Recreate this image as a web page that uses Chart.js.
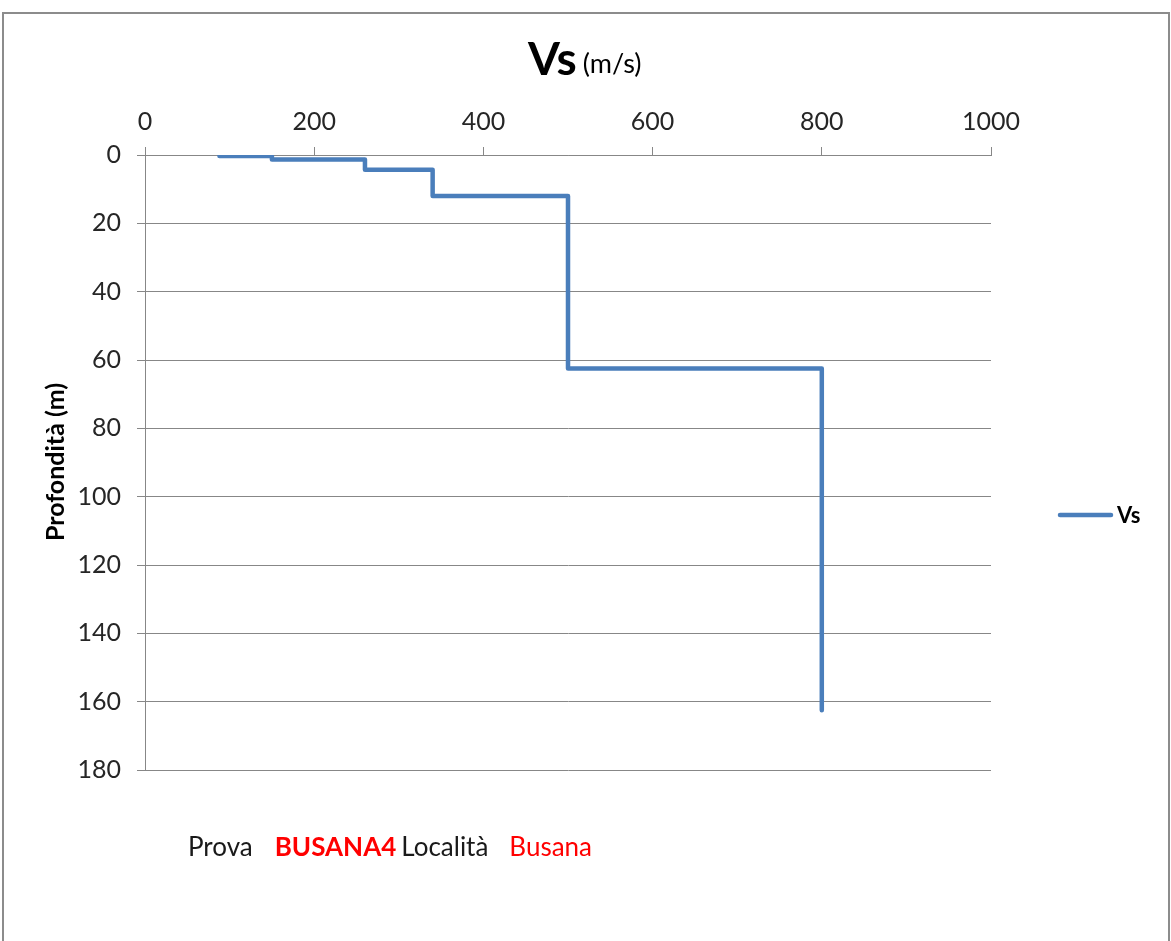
<!DOCTYPE html>
<html>
<head>
<meta charset="utf-8">
<script src="https://cdn.jsdelivr.net/npm/chart.js@4/dist/chart.umd.min.js"></script>
<style>
html,body{margin:0;padding:0;background:#fff;}
#wrap{position:relative;width:1171px;height:941px;}
</style>
</head>
<body>
<div id="wrap"><canvas id="c" width="1171" height="941"></canvas></div>
<script>
// Data (Vs in m/s vs depth in m), step profile
const vsValues    = [88, 150, 150, 260, 260, 340, 340, 500, 500, 800, 800];
const depthValues = [0.3, 0.3, 1.3, 1.3, 4.3, 4.3, 12, 12, 62.5, 62.5, 162.5];
const xTicks = [0, 200, 400, 600, 800, 1000];
const yTicks = [0, 20, 40, 60, 80, 100, 120, 140, 160, 180];
const seriesName = 'Vs';
const titleMain = 'Vs';
const titleUnit = '(m/s)';
const yTitle = 'Profondità (m)';
const footerParts = [
  {text: 'Prova', color: '#1a1a1a', bold: false, gapAfter: 22},
  {text: 'BUSANA4', color: '#ff0000', bold: true, gapAfter: 5},
  {text: 'Località', color: '#1a1a1a', bold: false, gapAfter: 21},
  {text: 'Busana', color: '#ff0000', bold: false, gapAfter: 0}
];

const FONT = 'Lato, "Open Sans", sans-serif';
const LINE_COLOR = '#4a7ebb';
const GRID = '#878787';

const points = vsValues.map((v, i) => ({x: v, y: depthValues[i]}));

const decor = {
  id: 'decor',
  beforeDraw(chart) {
    const ctx = chart.ctx;
    ctx.save();
    ctx.fillStyle = '#fff';
    ctx.fillRect(0, 0, chart.width, chart.height);
    ctx.strokeStyle = '#8c8c8c';
    ctx.lineWidth = 2;
    ctx.strokeRect(3, 13, 1166, 940);
    ctx.restore();
  },
  afterDraw(chart) {
    const ctx = chart.ctx;
    const area = chart.chartArea;
    ctx.save();
    // Title
    ctx.textBaseline = 'alphabetic';
    ctx.fillStyle = '#000';
    ctx.font = 'bold 46px ' + FONT;
    const w1 = ctx.measureText(titleMain).width;
    ctx.font = '27px ' + FONT;
    const w2 = ctx.measureText(titleUnit).width;
    const gap = 6;
    const x0 = 528;
    ctx.font = 'bold 46px ' + FONT;
    ctx.textAlign = 'left';
    ctx.fillText(titleMain, x0, 75);
    ctx.font = '27px ' + FONT;
    ctx.fillText(titleUnit, x0 + w1 + gap, 73);

    // Y axis title
    ctx.save();
    ctx.translate(64, 462);
    ctx.rotate(-Math.PI / 2);
    ctx.textAlign = 'center';
    ctx.textBaseline = 'alphabetic';
    ctx.font = 'bold 25px ' + FONT;
    ctx.fillStyle = '#000';
    ctx.fillText(yTitle, 0, 0);
    ctx.restore();

    // Legend
    const ly = 515;
    ctx.strokeStyle = LINE_COLOR;
    ctx.lineWidth = 4.5;
    ctx.lineCap = 'round';
    ctx.beginPath();
    ctx.moveTo(1060, ly);
    ctx.lineTo(1111, ly);
    ctx.stroke();
    ctx.fillStyle = '#000';
    ctx.font = 'bold 22px ' + FONT;
    ctx.textAlign = 'left';
    ctx.textBaseline = 'middle';
    ctx.fillText(seriesName, 1117, ly + 1);

    // Footer
    let fx = 188;
    ctx.textBaseline = 'alphabetic';
    footerParts.forEach(p => {
      ctx.font = (p.bold ? 'bold ' : '') + '26px ' + FONT;
      ctx.fillStyle = p.color;
      ctx.fillText(p.text, fx, 856);
      fx += ctx.measureText(p.text).width + p.gapAfter;
    });
    ctx.restore();
  }
};

new Chart(document.getElementById('c'), {
  type: 'line',
  data: {
    datasets: [{
      label: seriesName,
      data: points,
      borderColor: LINE_COLOR,
      backgroundColor: LINE_COLOR,
      borderWidth: 4.5,
      pointRadius: 0,
      tension: 0,
      fill: false,
      borderCapStyle: 'round',
      borderJoinStyle: 'round'
    }]
  },
  options: {
    responsive: false,
    animation: false,
    devicePixelRatio: 1,
    layout: {padding: {left: 0, top: 0, right: 180, bottom: 171}},
    plugins: {legend: {display: false}, tooltip: {enabled: false}, title: {display: false}},
    scales: {
      x: {
        type: 'linear',
        position: 'top',
        min: 0, max: 1000,
        afterBuildTicks(s) { s.ticks = xTicks.map(v => ({value: v})); },
        afterFit(s) { s.height = 155; },
        grid: {drawOnChartArea: false, drawTicks: true, tickLength: 8, color: GRID},
        border: {color: GRID, width: 1},
        ticks: {font: {family: FONT, size: 25}, color: '#262626', padding: 10, maxRotation: 0,
                callback: v => String(v)}
      },
      y: {
        type: 'linear',
        reverse: true,
        min: 0, max: 180,
        afterBuildTicks(s) { s.ticks = yTicks.map(v => ({value: v})); },
        afterFit(s) { s.width = 145; },
        grid: {drawOnChartArea: true, drawTicks: true, tickLength: 8, color: GRID},
        border: {color: GRID, width: 1},
        ticks: {font: {family: FONT, size: 25}, color: '#262626', padding: 16,
                callback: v => String(v)}
      }
    }
  },
  plugins: [decor]
});
</script>
</body>
</html>
